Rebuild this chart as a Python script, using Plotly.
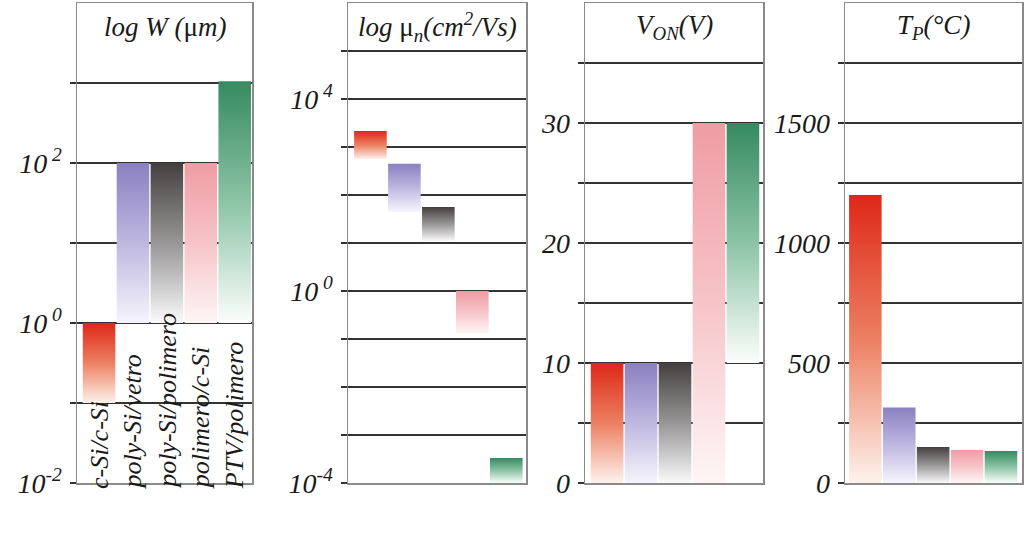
import plotly.graph_objects as go

# ---------------- data ----------------
categories = ["c-Si/c-Si", "poly-Si/vetro", "poly-Si/polimero", "polimero/c-Si", "PTV/polimero"]

# log W (um): floating bars (low, high)
width_low = [0.1, 1, 1, 1, 1]
width_high = [1, 100, 100, 100, 1050]

# log mu_n (cm2/Vs): floating bars
mobility_low = [560, 45, 11, 0.13, 1e-4]
mobility_high = [2150, 450, 56, 1, 3.3e-4]

# V_ON (V)
von_low = [0, 0, 0, 0, 10]
von_high = [10, 10, 10, 30, 30]

# T_P (C)
tp_low = [0, 0, 0, 0, 0]
tp_high = [1200, 315, 150, 137, 133]

panel_titles = [
    "<i>log W (</i>μ<i>m)</i>",
    "<i>log </i>μ<i><sub>n</sub>(cm<sup>2</sup>/Vs)</i>",
    "<i>V<sub>ON</sub>(V)</i>",
    "<i>T<sub>P</sub>(°C)</i>",
]

# labelled ticks and unlabelled grid lines
w_tickvals = [1e-2, 1e0, 1e2]
w_ticktext = ["10<sup>-2</sup>", "10<sup> 0</sup>", "10<sup> 2</sup>"]
w_gridvals = [1e-1, 1e1, 1e3]
mu_tickvals = [1e-4, 1e0, 1e4]
mu_ticktext = ["10<sup>-4</sup>", "10<sup> 0</sup>", "10<sup> 4</sup>"]
mu_gridvals = [1e-3, 1e-2, 1e-1, 1e1, 1e2, 1e3, 1e5]
v_tickvals = [0, 10, 20, 30]
v_ticktext = ["0", "10", "20", "30"]
v_gridvals = [5, 15, 25, 35]
t_tickvals = [0, 500, 1000, 1500]
t_ticktext = ["0", "500", "1000", "1500"]
t_gridvals = [250, 750, 1250, 1750]

# gradient colour scales (bottom -> top)
bar_scales = [
    [[0, "rgb(253,242,236)"], [0.5, "rgb(236,128,98)"], [1, "rgb(222,40,24)"]],
    [[0, "rgb(246,244,252)"], [0.5, "rgb(190,184,224)"], [1, "rgb(138,128,192)"]],
    [[0, "rgb(250,250,250)"], [0.5, "rgb(152,150,150)"], [1, "rgb(68,64,64)"]],
    [[0, "rgb(254,246,246)"], [0.5, "rgb(246,196,200)"], [1, "rgb(240,156,164)"]],
    [[0, "rgb(252,254,252)"], [0.5, "rgb(140,196,166)"], [1, "rgb(54,138,98)"]],
]

# ---------------- layout geometry ----------------
FW, FH = 1024, 533
x_pix = [(77, 252), (348, 526), (585, 763), (845, 1022)]
x_ranges = [[-0.65, 4.51], [-0.66, 4.58], [-0.65, 4.59], [-0.60, 4.62]]
y_top, y_bot = 3, 483
half_w = 0.48

panels = [
    dict(low=width_low, high=width_high, log=True, rng=[-2, 4], tv=w_tickvals, tt=w_ticktext, gv=w_gridvals),
    dict(low=mobility_low, high=mobility_high, log=True, rng=[-4, 6], tv=mu_tickvals, tt=mu_ticktext, gv=mu_gridvals),
    dict(low=von_low, high=von_high, log=False, rng=[0, 40], tv=v_tickvals, tt=v_ticktext, gv=v_gridvals),
    dict(low=tp_low, high=tp_high, log=False, rng=[0, 2000], tv=t_tickvals, tt=t_ticktext, gv=t_gridvals),
]

serif = "Liberation Serif"
grid_col = "#333333"
border_col = "#8a8a8a"

fig = go.Figure()
layout = dict(
    template="none",
    width=FW, height=FH, autosize=False,
    margin=dict(l=0, r=0, t=0, b=0, pad=0),
    plot_bgcolor="white", paper_bgcolor="white",
    showlegend=False, hovermode=False,
    annotations=[],
)

for p, pan in enumerate(panels):
    sfx = "" if p == 0 else str(p + 1)
    xa, ya = "x" + sfx, "y" + sfx
    for i in range(len(categories)):
        lo, hi = pan["low"][i], pan["high"][i]
        fig.add_trace(go.Scatter(
            x=[i - half_w, i + half_w, i + half_w, i - half_w, i - half_w],
            y=[lo, lo, hi, hi, lo],
            xaxis=xa, yaxis=ya,
            mode="lines", line=dict(width=0),
            fill="toself",
            fillgradient=dict(type="vertical", colorscale=bar_scales[i]),
            hoverinfo="skip",
        ))
    x0, x1 = x_pix[p]
    layout["xaxis" + sfx] = dict(
        domain=[x0 / FW, x1 / FW], range=x_ranges[p], anchor=ya,
        showgrid=False, zeroline=False, showticklabels=False, ticks="",
        showline=True, mirror=True, linecolor=border_col, linewidth=1.5,
        automargin=False,
    )
    layout["yaxis" + sfx] = dict(
        domain=[(FH - y_bot) / FH, (FH - y_top) / FH], anchor=xa,
        type="log" if pan["log"] else "linear", range=pan["rng"],
        tickmode="array", tickvals=pan["tv"], ticktext=pan["tt"],
        showgrid=True, gridcolor=grid_col, gridwidth=1.2, zeroline=False,
        ticks="outside", ticklen=6, tickcolor=grid_col, tickwidth=1.2,
        minor=dict(tickmode="array", tickvals=pan["gv"], showgrid=True,
                   gridcolor=grid_col, gridwidth=1.2, ticks="outside",
                   ticklen=6, tickcolor=grid_col, tickwidth=1.2),
        showline=True, mirror=True, linecolor=border_col, linewidth=1.5,
        tickfont=dict(family=serif, size=28, color="#1a1a1a", style="italic"),
        ticklabelstandoff=2, automargin=False,
    )
    layout["annotations"].append(dict(
        text=panel_titles[p], xref="paper", yref="paper",
        x=(x0 + x1) / 2 / FW, y=(FH - 27) / FH, xanchor="center", yanchor="middle",
        showarrow=False, font=dict(family=serif, size=27, color="#1a1a1a"),
    ))

# rotated category labels in the first panel
for i, cat in enumerate(categories):
    layout["annotations"].append(dict(
        text="<i>" + cat + "</i>", xref="x", yref="paper",
        x=i, y=(FH - 491) / FH, xanchor="center", yanchor="bottom",
        textangle=-90, showarrow=False,
        font=dict(family=serif, size=26, color="#1a1a1a"),
    ))

fig.update_layout(**layout)
fig.write_html(
    "out.html",
    config={"displayModeBar": False, "staticPlot": True},
    post_script="document.body.style.margin='0px';document.body.style.overflow='hidden';",
)
